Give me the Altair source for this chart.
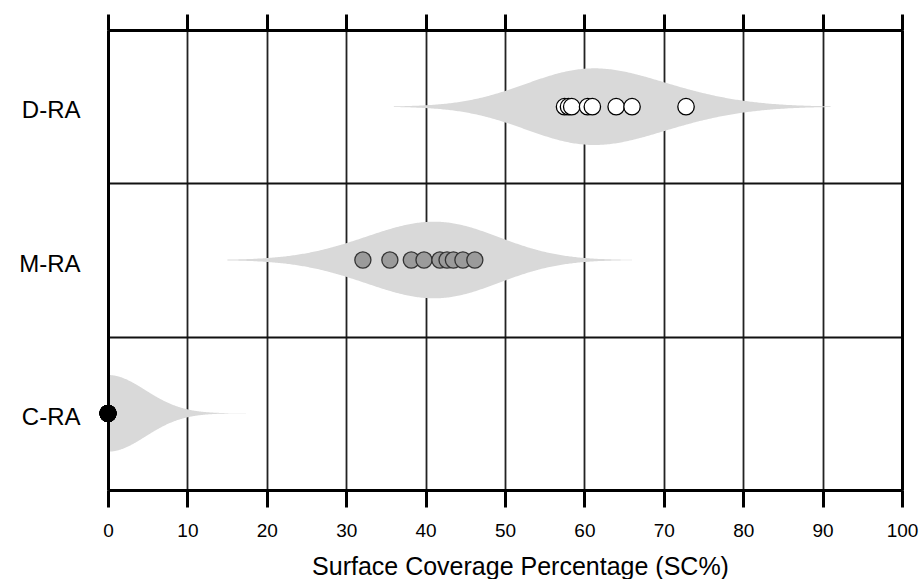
import altair as alt
import pandas as pd

# ---- data ----
groups = ["D-RA", "M-RA", "C-RA"]
d_ra = [57.5, 58.0, 58.4, 60.4, 61.0, 64.0, 66.0, 72.8]
m_ra = [32.1, 35.5, 38.2, 39.8, 41.8, 42.7, 43.5, 44.7, 46.2]
c_ra = [0, 0, 0, 0, 0, 0, 0, 0]
x_ticks = [0, 10, 20, 30, 40, 50, 60, 70, 80, 90, 100]

# kernel settings for each violin
bandwidths = [7.6, 7.0, 4.7]
extents = [[36, 91], [15, 66], [0, 21]]

rows = []
for i, (g, vals) in enumerate(zip(groups, [d_ra, m_ra, c_ra])):
    center = len(groups) - i - 0.5
    for v in vals:
        rows.append({"group": g, "value": v, "center": center})
df = pd.DataFrame(rows)

FONT = "Liberation Sans"
xscale = alt.Scale(domain=[0, 100], nice=False, zero=False)
yscale = alt.Scale(domain=[0, 3], nice=False, zero=False)

bottom_axis = alt.Axis(
    orient="bottom", values=x_ticks, grid=True, gridColor="#222222", gridWidth=1.8,
    tickSize=17, tickWidth=3, tickColor="black", domainWidth=3, domainColor="black",
    labelFont=FONT, labelFontSize=19, labelColor="black", labelPadding=14, labelFlush=False,
    title="Surface Coverage Percentage (SC%)", titleFont=FONT, titleFontSize=25,
    titleFontWeight="normal", titleColor="black", titlePadding=14, titleX=412,
)
top_axis = alt.Axis(
    orient="top", values=x_ticks, grid=False, labels=False,
    tickSize=16, tickWidth=3, tickColor="black", domainWidth=3, domainColor="black",
    title="",
)
left_axis = alt.Axis(
    orient="left", values=[0.5, 1.5, 2.5], grid=False, ticks=False,
    domain=True, domainWidth=3, domainColor="black", zindex=1,
    labelExpr="datum.value > 2 ? 'D-RA' : (datum.value > 1 ? 'M-RA' : 'C-RA')",
    labelFont=FONT, labelFontSize=24, labelColor="black", labelPadding=28,
    labelBaseline="middle", labelOffset=4, title="",
)
right_axis = alt.Axis(
    orient="right", values=[1, 2], grid=True, gridColor="#111111", gridWidth=1.8,
    ticks=False, labels=False, domain=True, domainWidth=3, domainColor="black",
    zindex=1, title="",
)

base = alt.Chart(df)
layers = []
for i, g in enumerate(groups):
    v = (
        base.transform_filter(alt.datum.group == g)
        .transform_density(
            "value", groupby=["group", "center"], bandwidth=bandwidths[i],
            extent=extents[i], steps=300, as_=["value", "density"],
        )
        .transform_joinaggregate(dmax="max(density)")
        .transform_calculate(
            y_top="datum.center + 0.25 * datum.density / datum.dmax",
            y_bot="datum.center - 0.25 * datum.density / datum.dmax",
        )
        .mark_area(color="#d9d9d9", opacity=1)
    )
    if i == 0:
        v = v.encode(
            x=alt.X("value:Q", scale=xscale, axis=bottom_axis),
            y=alt.Y("y_top:Q", scale=yscale, axis=left_axis),
            y2="y_bot:Q",
        )
    else:
        v = v.encode(
            x=alt.X("value:Q", scale=xscale, axis=None),
            y=alt.Y("y_top:Q", scale=yscale, axis=None),
            y2="y_bot:Q",
        )
    layers.append(v)

points = base.mark_point(filled=False, strokeWidth=1.3, opacity=1, shape="circle").encode(
    x=alt.X("value:Q", scale=xscale, axis=top_axis),
    y=alt.Y("center:Q", scale=yscale, axis=right_axis),
    fill=alt.Fill("group:N", scale=alt.Scale(domain=groups, range=["white", "#9b9b9b", "black"]), legend=None),
    stroke=alt.Stroke("group:N", scale=alt.Scale(domain=groups, range=["black", "#333333", "black"]), legend=None),
    size=alt.Size("group:N", scale=alt.Scale(domain=groups, range=[270, 250, 170]), legend=None),
)
layers.append(points)

chart = (
    alt.layer(*layers)
    .resolve_axis(x="independent", y="independent")
    .resolve_scale(x="shared", y="shared")
    .properties(
        width=794, height=460,
        autosize=alt.AutoSizeParams(type="none"),
        padding={"left": 108, "top": 30, "right": 19, "bottom": 89},
        background="white",
    )
    .configure_view(stroke="transparent")
)

chart.save("out.html", embed_options={"renderer": "svg", "actions": False})
